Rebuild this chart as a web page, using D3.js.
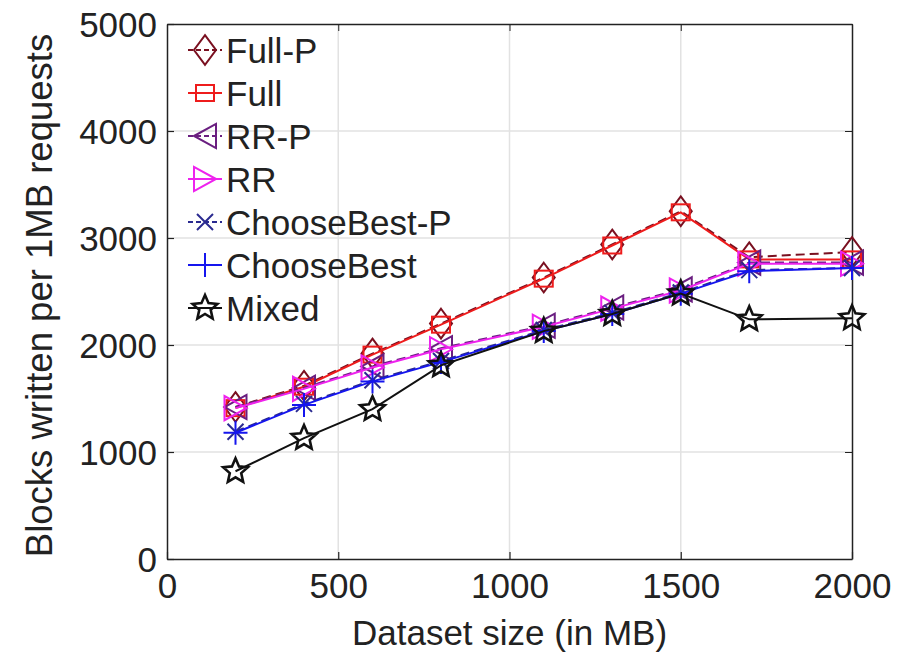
<!DOCTYPE html>
<html>
<head>
<meta charset="utf-8">
<script src="https://cdn.jsdelivr.net/npm/d3@7"></script>
<style>
  body { margin: 0; background: #fff; }
  text { font-family: "Liberation Sans", Arial, sans-serif; fill: #222; }
</style>
</head>
<body>
<div id="chart"></div>
<script>
/* Blocks written per 1MB request vs dataset size */

const sizes = [200, 400, 600, 800, 1100, 1300, 1500, 1700, 2000];
const fullP = [1420, 1620, 1920, 2200, 2630, 2940, 3250, 2820, 2870];
const full = [1410, 1610, 1910, 2190, 2620, 2930, 3240, 2800, 2800];
const rrP = [1420, 1600, 1800, 1970, 2180, 2350, 2520, 2770, 2770];
const rr = [1410, 1590, 1790, 1960, 2170, 2340, 2510, 2760, 2760];
const cbP = [1190, 1450, 1670, 1850, 2140, 2300, 2490, 2700, 2720];
const cb = [1180, 1440, 1660, 1840, 2130, 2290, 2480, 2690, 2720];
const mixed = [820, 1130, 1400, 1810, 2130, 2290, 2480, 2240, 2250];

const xTicks = [0, 500, 1000, 1500, 2000];
const yTicks = [0, 1000, 2000, 3000, 4000, 5000];

const seriesNames = ["Full-P", "Full", "RR-P", "RR", "ChooseBest-P", "ChooseBest", "Mixed"];
const seriesValues = [fullP, full, rrP, rr, cbP, cb, mixed];
const colors = ["#7a1020", "#ee1c1c", "#6a1e80", "#ee22ee", "#2a2a90", "#1515ee", "#111111"];
const markers = ["diamond", "square", "tleft", "tright", "x", "plus", "star"];
const dashed = [true, false, true, false, true, false, false];

const W = 908, H = 668;
const margin = { top: 24, right: 56, bottom: 109, left: 167 };
const pw = W - margin.left - margin.right;
const ph = H - margin.top - margin.bottom;

const svg = d3.select("#chart").append("svg")
  .attr("width", W)
  .attr("height", H);

const x = d3.scaleLinear().domain([0, 2000]).range([margin.left, margin.left + pw]);
const y = d3.scaleLinear().domain([0, 5000]).range([margin.top + ph, margin.top]);

// grid
svg.append("g").selectAll("line")
  .data(xTicks.slice(1, -1))
  .join("line")
  .attr("x1", d => x(d)).attr("x2", d => x(d))
  .attr("y1", margin.top).attr("y2", margin.top + ph)
  .attr("stroke", "#e2e2e2").attr("stroke-width", 1.5);
svg.append("g").selectAll("line")
  .data(yTicks.slice(1, -1))
  .join("line")
  .attr("x1", margin.left).attr("x2", margin.left + pw)
  .attr("y1", d => y(d)).attr("y2", d => y(d))
  .attr("stroke", "#e2e2e2").attr("stroke-width", 1.5);

// axes
const fs = 35;
const fmt = d3.format("d");
const xAxis = svg.append("g")
  .attr("transform", `translate(0,${margin.top + ph})`)
  .call(d3.axisBottom(x).tickValues(xTicks).tickFormat(fmt).tickSizeInner(-7).tickSizeOuter(0).tickPadding(14));
const yAxis = svg.append("g")
  .attr("transform", `translate(${margin.left},0)`)
  .call(d3.axisLeft(y).tickValues(yTicks).tickFormat(fmt).tickSizeInner(-7).tickSizeOuter(0).tickPadding(10));
[xAxis, yAxis].forEach(g => {
  g.selectAll("text").attr("font-size", fs).attr("fill", "#222");
  g.select(".domain").attr("stroke", "#222").attr("stroke-width", 1.5);
  g.selectAll(".tick line").attr("stroke", "#222").attr("stroke-width", 1.2);
});
yAxis.selectAll("text").attr("dy", "0.36em");

// top & right box with inward ticks
svg.append("g")
  .attr("transform", `translate(0,${margin.top})`)
  .call(d3.axisTop(x).tickValues(xTicks).tickSizeInner(-7).tickSizeOuter(0).tickFormat(""))
  .call(g => g.select(".domain").attr("stroke", "#222").attr("stroke-width", 1.5))
  .call(g => g.selectAll(".tick line").attr("stroke", "#222"));
svg.append("g")
  .attr("transform", `translate(${margin.left + pw},0)`)
  .call(d3.axisRight(y).tickValues(yTicks).tickSizeInner(-7).tickSizeOuter(0).tickFormat(""))
  .call(g => g.select(".domain").attr("stroke", "#222").attr("stroke-width", 1.5))
  .call(g => g.selectAll(".tick line").attr("stroke", "#222"));

// axis titles
svg.append("text")
  .attr("x", margin.left + pw / 2)
  .attr("y", 645)
  .attr("text-anchor", "middle")
  .attr("font-size", fs)
  .text("Dataset size (in MB)");
svg.append("text")
  .attr("transform", `translate(52,${margin.top + ph / 2 + 4}) rotate(-90)`)
  .attr("text-anchor", "middle")
  .attr("font-size", 36.5)
  .text("Blocks written per 1MB requests");

// marker drawer
function drawMarker(g, type, color, cx, cy) {
  const s = 11;
  let el;
  if (type === "diamond") {
    el = g.append("path").attr("d", `M${cx},${cy - s * 1.35}L${cx + s},${cy}L${cx},${cy + s * 1.35}L${cx - s},${cy}Z`);
  } else if (type === "square") {
    el = g.append("rect").attr("x", cx - 9).attr("y", cy - 8).attr("width", 18).attr("height", 16);
  } else if (type === "tleft") {
    el = g.append("path").attr("d", `M${cx - s},${cy}L${cx + s},${cy - s * 1.1}L${cx + s},${cy + s * 1.1}Z`);
  } else if (type === "tright") {
    el = g.append("path").attr("d", `M${cx + s},${cy}L${cx - s},${cy - s * 1.1}L${cx - s},${cy + s * 1.1}Z`);
  } else if (type === "x") {
    const r = 8;
    el = g.append("path").attr("d", `M${cx - r},${cy - r}L${cx + r},${cy + r}M${cx - r},${cy + r}L${cx + r},${cy - r}`);
  } else if (type === "plus") {
    const r = 12;
    el = g.append("path").attr("d", `M${cx - r},${cy}L${cx + r},${cy}M${cx},${cy - r}L${cx},${cy + r}`);
  } else {
    const pts = [];
    for (let k = 0; k < 10; k++) {
      const a = -Math.PI / 2 + k * Math.PI / 5;
      const r = k % 2 === 0 ? 13 : 6;
      pts.push([cx + r * Math.cos(a), cy + r * Math.sin(a)]);
    }
    el = g.append("path").attr("d", d3.line()(pts) + "Z");
  }
  el.attr("fill", "none").attr("stroke", color).attr("stroke-width", type === "star" ? 2.6 : 2);
}

// series
const line = d3.line().x(d => x(d[0])).y(d => y(d[1]));
seriesValues.forEach((vals, i) => {
  const pts = sizes.map((s, j) => [s, vals[j]]);
  const g = svg.append("g");
  g.append("path")
    .attr("d", line(pts))
    .attr("fill", "none")
    .attr("stroke", colors[i])
    .attr("stroke-width", 2)
    .attr("stroke-dasharray", dashed[i] ? "9,5" : null);
  pts.forEach(p => drawMarker(g, markers[i], colors[i], x(p[0]), y(p[1])));
});

// legend (transparent, no box)
const lg = svg.append("g");
seriesNames.forEach((name, i) => {
  const ly = 50 + i * 43;
  lg.append("line")
    .attr("x1", 188).attr("x2", 222)
    .attr("y1", ly).attr("y2", ly)
    .attr("stroke", colors[i]).attr("stroke-width", 2)
    .attr("stroke-dasharray", dashed[i] ? "5,3" : null);
  drawMarker(lg, markers[i], colors[i], 205, ly);
  lg.append("text")
    .attr("x", 226).attr("y", ly)
    .attr("dy", "0.36em")
    .attr("font-size", fs)
    .text(name);
});
</script>
</body>
</html>
